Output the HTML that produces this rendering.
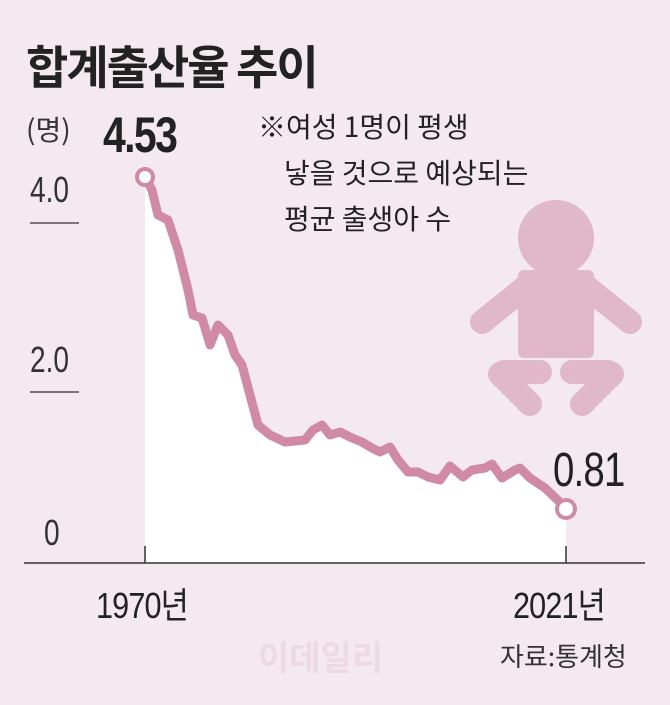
<!DOCTYPE html>
<html><head><meta charset="utf-8"><style>
body{margin:0;width:670px;height:705px;background:#f4e9ef;overflow:hidden;font-family:"Liberation Sans","Noto Sans CJK KR",sans-serif;}
</style></head><body>
<svg width="670" height="705" xmlns="http://www.w3.org/2000/svg" style="position:absolute;left:0;top:0">
<rect width="670" height="705" fill="#f4e9ef"/>
<text x="26" y="84" font-size="46" font-weight="bold" fill="#222" font-family="Noto Sans CJK KR,sans-serif" letter-spacing="-2">합계출산율 추이</text>
<text x="26" y="140" font-size="28" fill="#333" font-family="Noto Sans CJK KR,sans-serif">(명)</text>
<text transform="translate(103,152) scale(0.82,1)" font-size="50" font-weight="bold" fill="#222" letter-spacing="-2">4.53</text>
<text x="258" y="137" font-size="28" fill="#222" font-family="Noto Sans CJK KR,sans-serif">※여성 1명이 평생</text>
<text x="284" y="183" font-size="28" fill="#222" font-family="Noto Sans CJK KR,sans-serif">낳을 것으로 예상되는</text>
<text x="284" y="229" font-size="28" fill="#222" font-family="Noto Sans CJK KR,sans-serif">평균 출생아 수</text>
<text transform="translate(30,202) scale(0.78,1)" font-size="36" fill="#333">4.0</text>
<line x1="30" y1="223" x2="79" y2="223" stroke="#333" stroke-width="1.2"/>
<text transform="translate(30,372) scale(0.78,1)" font-size="36" fill="#333">2.0</text>
<line x1="30" y1="392" x2="79" y2="392" stroke="#333" stroke-width="1.2"/>
<text transform="translate(44,545) scale(0.78,1)" font-size="36" fill="#333">0</text>
<polygon fill="#fff" points="145,177 152,190 158,215 168,220 178,250 188,290 193,315 202,318 210,345 218,325 228,335 235,355 242,365 250,395 258,425 270,435 285,442 305,440 313,430 322,425 330,435 340,432 352,438 362,442 372,448 380,452 390,447 398,460 408,472 418,472 428,477 440,480 450,466 463,477 472,470 485,468 492,464 502,478 515,470 520,468 530,478 545,488 566,508 566,563 145,563"/>
<g fill="#e0b8c8" stroke="none">
<circle cx="556" cy="238" r="38"/>
<rect x="518" y="270" width="76" height="88" rx="6"/>
<line x1="528" y1="285" x2="482" y2="322" stroke="#e0b8c8" stroke-width="24" stroke-linecap="round"/>
<line x1="584" y1="285" x2="630" y2="322" stroke="#e0b8c8" stroke-width="24" stroke-linecap="round"/>
<path d="M500 374 L530 404" stroke="#e0b8c8" stroke-width="24" stroke-linecap="round"/>
<path d="M504 372 L540 372" stroke="#e0b8c8" stroke-width="24" stroke-linecap="round"/>
<path d="M612 374 L582 404" stroke="#e0b8c8" stroke-width="24" stroke-linecap="round"/>
<path d="M608 372 L572 372" stroke="#e0b8c8" stroke-width="24" stroke-linecap="round"/>
</g>
<polyline fill="none" stroke="#d18aa6" stroke-width="9" stroke-linejoin="round" stroke-linecap="round" points="145,177 152,190 158,215 168,220 178,250 188,290 193,315 202,318 210,345 218,325 228,335 235,355 242,365 250,395 258,425 270,435 285,442 305,440 313,430 322,425 330,435 340,432 352,438 362,442 372,448 380,452 390,447 398,460 408,472 418,472 428,477 440,480 450,466 463,477 472,470 485,468 492,464 502,478 515,470 520,468 530,478 545,488 566,508"/>
<circle cx="145" cy="177" r="8" fill="#fff" stroke="#d18aa6" stroke-width="4"/>
<circle cx="566" cy="509" r="9" fill="#fff" stroke="#d18aa6" stroke-width="4"/>
<text transform="translate(553,486) scale(0.8,1)" font-size="48" fill="#222" letter-spacing="-1">0.81</text>
<line x1="24" y1="563" x2="645" y2="563" stroke="#333" stroke-width="1.5"/>
<line x1="145" y1="546" x2="145" y2="563" stroke="#333" stroke-width="1.5"/>
<line x1="566" y1="546" x2="566" y2="563" stroke="#333" stroke-width="1.5"/>
<text transform="translate(96,618) scale(0.85,1)" font-size="36" fill="#222" letter-spacing="-1" font-family="Liberation Sans,Noto Sans CJK KR,sans-serif">1970년</text>
<text transform="translate(513,618) scale(0.85,1)" font-size="36" fill="#222" letter-spacing="-1" font-family="Liberation Sans,Noto Sans CJK KR,sans-serif">2021년</text>
<text x="258" y="670" font-size="34" font-weight="bold" fill="#ecd9e2" font-family="Noto Sans CJK KR,sans-serif">이데일리</text>
<text x="500" y="666" font-size="26" fill="#333" font-family="Noto Sans CJK KR,sans-serif">자료:통계청</text>
</svg>
</body></html>
